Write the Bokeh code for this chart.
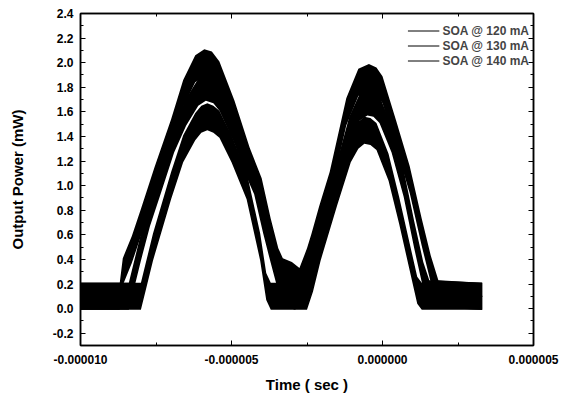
import numpy as np
from bokeh.plotting import figure
from bokeh.models import (Range1d, FixedTicker, PrintfTickFormatter, LinearAxis,
                          CustomJSTickFormatter, Legend, LegendItem)
from bokeh.embed import file_html
from bokeh.resources import INLINE

# ---- data (time in microseconds, power in mW) ----
T_SCALE = 1e-6

S120_T = [-10.0, -8.0, -7.85, -7.6, -7.3, -7.0, -6.6, -6.2, -6.0, -5.8, -5.6, -5.4, -5.0,
          -4.75, -4.5, -4.05, -3.85, -3.7, -2.5, -2.3, -2.05, -1.5, -1.05, -0.8, -0.6,
          -0.4, -0.2, 0.2, 0.55, 0.9, 1.15, 1.3, 3.3]
S120_V = [0.1, 0.1, 0.25, 0.5, 0.75, 1.0, 1.3, 1.48, 1.54, 1.56, 1.54, 1.5, 1.3,
          1.15, 1.0, 0.5, 0.18, 0.1, 0.1, 0.25, 0.5, 0.95, 1.3, 1.41, 1.45,
          1.44, 1.4, 1.15, 0.8, 0.42, 0.15, 0.1, 0.1]

S130_T = [-10.0, -8.4, -8.25, -8.0, -7.7, -7.35, -6.9, -6.5, -6.1, -5.85, -5.6, -5.4, -4.9,
          -4.5, -4.25, -3.95, -3.7, -3.45, -3.25, -2.9, -2.65, -2.45, -2.2, -1.6, -1.1,
          -0.75, -0.5, -0.3, -0.1, 0.3, 0.7, 1.05, 1.35, 1.55, 3.3]
S130_V = [0.1, 0.1, 0.25, 0.5, 0.78, 1.04, 1.38, 1.6, 1.76, 1.8, 1.78, 1.72, 1.45,
          1.18, 1.04, 0.72, 0.48, 0.25, 0.13, 0.1, 0.14, 0.3, 0.5, 1.0, 1.45,
          1.64, 1.68, 1.67, 1.62, 1.38, 1.02, 0.6, 0.27, 0.12, 0.1]

S140_T = [-10.0, -8.7, -8.6, -8.3, -8.0, -7.55, -7.0, -6.6, -6.2, -5.9, -5.65, -5.4, -4.9,
          -4.4, -4.0, -3.7, -3.45, -3.3, -3.0, -2.75, -2.5, -2.35, -2.1, -1.75, -1.2,
          -0.8, -0.45, -0.2, 0.0, 0.45, 0.9, 1.3, 1.6, 1.85, 3.3]
S140_V = [0.1, 0.1, 0.3, 0.48, 0.7, 1.04, 1.43, 1.75, 1.95, 2.0, 1.98, 1.9, 1.58,
          1.2, 0.95, 0.62, 0.38, 0.3, 0.27, 0.22, 0.38, 0.5, 0.72, 1.0, 1.6,
          1.84, 1.88, 1.85, 1.78, 1.42, 1.05, 0.62, 0.32, 0.12, 0.1]

NOISE_HALF = 0.11  # half peak-to-peak noise of the traces (mW)

SERIES_LABELS = ["SOA @ 120 mA", "SOA @ 130 mA", "SOA @ 140 mA"]

X_TICKS = [-10e-6, -5e-6, 0.0, 5e-6]
X_MINOR = [-7.5e-6, -2.5e-6, 2.5e-6]
Y_TICKS = [-0.2, 0.0, 0.2, 0.4, 0.6, 0.8, 1.0, 1.2, 1.4, 1.6, 1.8, 2.0, 2.2, 2.4]
Y_MINOR = [-0.3, -0.1, 0.1, 0.3, 0.5, 0.7, 0.9, 1.1, 1.3, 1.5, 1.7, 1.9, 2.1, 2.3]

FONT = "Liberation Sans"

p = figure(width=569, height=397, output_backend="svg", toolbar_location=None,
           x_range=Range1d(-10e-6, 5e-6), y_range=Range1d(-0.3, 2.4),
           min_border_left=80, min_border_right=36, min_border_top=13, min_border_bottom=52)
p.grid.visible = False
p.outline_line_color = "black"
p.outline_line_width = 1.5
p.background_fill_color = "white"

series = [(S120_T, S120_V), (S130_T, S130_V), (S140_T, S140_V)]
items = []
for (t, v), lab in zip(series, SERIES_LABELS):
    x = np.array(t) * T_SCALE
    y = np.array(v)
    p.varea(x=x, y1=y - NOISE_HALF, y2=y + NOISE_HALF, fill_color="black")
    r = p.line(x=x, y=y, line_color="black", line_width=1)
    items.append(LegendItem(label=lab, renderers=[r]))

def style_axis(ax):
    ax.axis_line_color = "black"
    ax.axis_line_width = 1.5
    ax.major_tick_in = 5
    ax.major_tick_out = 0
    ax.minor_tick_in = 3
    ax.minor_tick_out = 0
    ax.major_tick_line_color = "black"
    ax.minor_tick_line_color = "black"
    ax.major_label_text_font = FONT
    ax.major_label_text_font_style = "bold"
    ax.major_label_text_font_size = "12px"
    ax.major_label_text_color = "black"
    ax.axis_label_text_font = FONT
    ax.axis_label_text_font_style = "bold"
    ax.axis_label_text_font_size = "15px"
    ax.axis_label_text_color = "black"

xt = FixedTicker(ticks=X_TICKS, minor_ticks=X_MINOR)
yt = FixedTicker(ticks=Y_TICKS, minor_ticks=Y_MINOR)

xa = p.xaxis[0]
xa.ticker = xt
xa.formatter = PrintfTickFormatter(format="%.6f")
xa.axis_label = "Time ( sec )"
style_axis(xa)
xa.major_label_standoff = 9
xa.axis_label_standoff = 9

ya = p.yaxis[0]
ya.ticker = yt
ya.formatter = PrintfTickFormatter(format="%.1f")
ya.axis_label = "Output Power (mW)"
style_axis(ya)
ya.major_label_standoff = 7
ya.axis_label_standoff = 24

empty = CustomJSTickFormatter(code="return ''")
top = LinearAxis(ticker=xt, formatter=empty, major_label_standoff=0)
style_axis(top)
right = LinearAxis(ticker=yt, formatter=empty, major_label_standoff=0)
style_axis(right)
p.add_layout(top, "above")
p.add_layout(right, "right")

legend = Legend(items=items, location="top_right")
legend.title = " "
legend.title_text_font_size = "5px"
legend.title_standoff = 0
legend.label_text_font = FONT
legend.label_text_font_style = "bold"
legend.label_text_font_size = "12px"
legend.glyph_width = 32
legend.glyph_height = 15
legend.label_height = 15
legend.label_standoff = 3
legend.spacing = 0
legend.margin = 4
legend.padding = 6
legend.border_line_color = None
legend.background_fill_alpha = 0
p.add_layout(legend)

open("out.html", "w").write(file_html(p, INLINE))
